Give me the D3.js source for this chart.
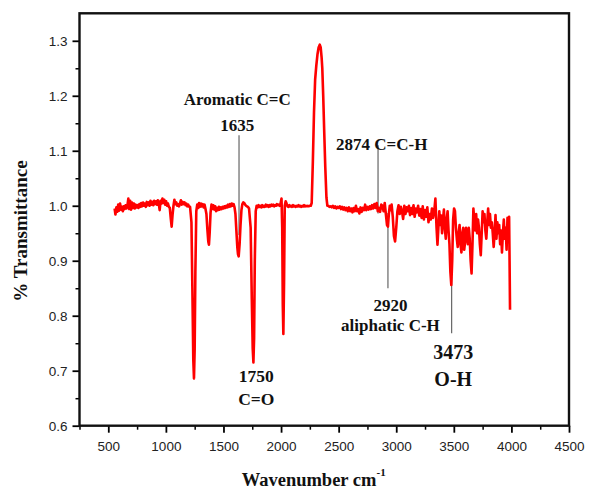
<!DOCTYPE html>
<html lang="en">

<head>
    <meta charset="UTF-8">
    <title>FTIR spectrum</title>
    <style>
        body {
            margin: 0;
            background-color: #fff;
        }

        .tick text {
            font-family: "Liberation Sans", Arial, sans-serif;
            font-size: 13.5px;
            fill: #222;
        }

        .note {
            font-family: "Liberation Serif", "Times New Roman", serif;
            font-weight: bold;
            fill: #111;
        }
    </style>
</head>

<body>
    <script src="https://cdnjs.cloudflare.com/ajax/libs/d3/7.8.5/d3.min.js"></script>
    <div id="my_dataviz"></div>
    <script>

        // spectrum (wavenumber, transmittance)
        const wavenumber = [
            555, 562, 570, 578, 586, 594, 602, 610, 618, 626, 634, 642, 650, 658, 666, 674, 682, 690, 698, 706,
            714, 722, 730, 738, 746, 754, 762, 770, 778, 786, 794, 802, 810, 818, 826, 834, 842, 850, 858, 866,
            874, 882, 890, 898, 906, 914, 922, 930, 938, 946, 954, 962, 970, 978, 986, 994, 1002, 1010, 1018, 1026,
            1034, 1042, 1050, 1058, 1066, 1074, 1082, 1090, 1098, 1106, 1114, 1122, 1130, 1138, 1146, 1154, 1162, 1170, 1178, 1186,
            1194, 1202, 1210, 1222, 1230, 1238, 1244, 1250, 1256, 1264, 1272, 1280, 1288, 1296, 1304, 1312, 1320, 1328, 1336, 1344,
            1352, 1360, 1368, 1374, 1380, 1388, 1396, 1404, 1412, 1420, 1428, 1436, 1444, 1452, 1460, 1468, 1476, 1484, 1492, 1500,
            1508, 1516, 1524, 1532, 1540, 1548, 1556, 1564, 1572, 1580, 1588, 1596, 1604, 1612, 1620, 1626, 1632, 1640, 1648, 1656,
            1664, 1672, 1680, 1688, 1696, 1704, 1712, 1722, 1736, 1746, 1754, 1760, 1766, 1772, 1780, 1788, 1796, 1804, 1812, 1820,
            1828, 1836, 1844, 1852, 1860, 1868, 1876, 1884, 1892, 1900, 1908, 1916, 1924, 1932, 1940, 1948, 1956, 1964, 1972, 1980,
            1988, 1996, 2004, 2010, 2015, 2020, 2026, 2032, 2040, 2048, 2056, 2064, 2072, 2080, 2088, 2096, 2104, 2112, 2120, 2128,
            2136, 2144, 2152, 2160, 2168, 2176, 2184, 2192, 2200, 2208, 2216, 2224, 2232, 2240, 2248, 2258, 2266, 2276, 2286, 2296,
            2306, 2316, 2326, 2336, 2344, 2352, 2358, 2366, 2374, 2384, 2394, 2402, 2410, 2420, 2430, 2440, 2450, 2460, 2470, 2480,
            2490, 2500, 2510, 2520, 2530, 2540, 2550, 2560, 2570, 2580, 2590, 2600, 2610, 2620, 2630, 2640, 2650, 2660, 2670, 2680,
            2690, 2700, 2710, 2720, 2730, 2740, 2750, 2760, 2770, 2780, 2790, 2800, 2810, 2820, 2830, 2840, 2850, 2860, 2870, 2880,
            2890, 2900, 2910, 2920, 2928, 2936, 2944, 2952, 2960, 2970, 2980, 2990, 3000, 3010, 3020, 3030, 3040, 3050, 3060, 3070,
            3080, 3090, 3100, 3110, 3120, 3130, 3140, 3150, 3160, 3170, 3180, 3190, 3200, 3210, 3220, 3230, 3240, 3250, 3260, 3270,
            3280, 3290, 3300, 3310, 3320, 3330, 3340, 3350, 3358, 3366, 3374, 3382, 3390, 3398, 3406, 3414, 3422, 3430, 3438, 3446,
            3454, 3462, 3470, 3478, 3486, 3494, 3502, 3510, 3518, 3526, 3534, 3542, 3550, 3558, 3566, 3574, 3582, 3590, 3598, 3606,
            3614, 3622, 3630, 3638, 3646, 3654, 3662, 3670, 3678, 3686, 3694, 3702, 3710, 3718, 3726, 3734, 3742, 3750, 3758, 3766,
            3774, 3782, 3790, 3798, 3806, 3814, 3822, 3830, 3838, 3846, 3854, 3862, 3870, 3878, 3886, 3894, 3902, 3910, 3918, 3926,
            3934, 3942, 3950, 3958, 3966, 3974, 3980, 3984, 3988
        ];
        const transmittance = [
            0.995, 0.984, 0.997, 0.989, 1.002, 0.991, 1.004, 0.993, 0.998, 0.990, 0.999, 0.994, 1.001, 0.995, 1.000, 1.013, 0.994, 1.009, 0.993, 1.006,
            0.996, 1.004, 0.995, 1.002, 0.997, 1.001, 0.996, 1.003, 0.998, 1.005, 0.999, 1.006, 1.000, 1.004, 0.998, 1.007, 1.001, 1.006, 1.000, 1.009,
            1.002, 1.007, 1.001, 1.009, 1.003, 1.008, 1.002, 1.010, 1.004, 0.992, 1.009, 1.004, 1.013, 1.005, 1.011, 1.002, 1.008, 1.000, 1.004, 0.998,
            0.996, 0.978, 0.962, 0.984, 1.000, 1.011, 1.003, 1.006, 1.000, 1.003, 0.999, 1.004, 1.010, 1.002, 1.007, 1.003, 1.006, 1.001, 1.004, 0.999,
            1.002, 0.998, 0.998, 0.970, 0.850, 0.720, 0.686, 0.740, 0.880, 0.990, 1.002, 0.996, 1.005, 0.998, 1.004, 0.999, 1.003, 0.997, 1.002, 0.994,
            0.985, 0.958, 0.935, 0.929, 0.950, 0.988, 1.002, 0.994, 1.001, 0.993, 0.999, 0.990, 0.996, 0.992, 0.998, 0.993, 0.997, 0.994, 0.998, 0.995,
            0.999, 0.996, 1.000, 0.997, 1.002, 0.998, 1.003, 0.999, 1.004, 1.000, 1.003, 0.997, 0.985, 0.955, 0.925, 0.912, 0.908, 0.930, 0.965, 0.992,
            1.003, 1.006, 1.005, 1.002, 1.000, 0.999, 0.998, 0.995, 0.960, 0.830, 0.740, 0.715, 0.760, 0.900, 0.990, 1.000, 0.997, 1.001, 0.998, 1.000,
            0.997, 1.001, 0.998, 1.000, 0.998, 1.002, 0.999, 1.001, 0.998, 1.001, 0.999, 1.002, 1.000, 1.002, 0.999, 1.001, 1.000, 1.003, 1.001, 1.002,
            1.000, 1.004, 1.013, 0.960, 0.820, 0.767, 0.860, 1.000, 1.008, 1.004, 0.999, 0.998, 1.001, 0.999, 1.000, 0.998, 1.001, 0.999, 1.000, 0.998,
            1.000, 0.999, 1.001, 0.999, 1.000, 0.998, 1.000, 0.999, 1.001, 0.999, 1.000, 0.999, 1.000, 0.999, 1.000, 1.000, 1.005, 1.080, 1.170, 1.230,
            1.255, 1.275, 1.288, 1.293, 1.288, 1.270, 1.250, 1.200, 1.140, 1.070, 1.015, 1.000, 1.000, 0.998, 0.999, 0.997, 1.000, 0.996, 0.999, 0.995,
            0.998, 0.996, 0.999, 0.994, 0.998, 0.993, 0.997, 0.992, 0.996, 0.990, 0.997, 0.990, 0.995, 0.988, 0.996, 0.990, 1.000, 0.990, 0.994, 0.986,
            0.997, 0.989, 0.996, 0.992, 1.002, 0.992, 0.998, 0.993, 0.999, 0.994, 1.001, 0.995, 1.003, 0.996, 1.005, 0.990, 0.996, 0.989, 1.002, 1.000,
            0.990, 1.005, 0.985, 0.965, 0.962, 0.985, 1.000, 0.992, 1.002, 0.980, 0.945, 0.935, 0.960, 0.990, 1.001, 0.985, 0.998, 0.990, 0.976, 1.000,
            0.985, 0.997, 0.990, 1.000, 0.983, 0.996, 0.985, 1.001, 0.980, 0.995, 0.988, 1.000, 0.982, 0.994, 0.978, 0.999, 0.975, 0.992, 0.980, 0.997,
            0.970, 0.985, 0.975, 0.995, 0.978, 0.990, 1.013, 0.960, 0.929, 0.960, 0.990, 0.965, 0.982, 0.950, 0.975, 0.993, 0.960, 0.940, 0.975, 0.990,
            0.955, 0.930, 0.880, 0.856, 0.900, 0.975, 0.995, 0.990, 0.960, 0.940, 0.925, 0.950, 0.965, 0.930, 0.915, 0.950, 0.960, 0.920, 0.935, 0.960,
            0.945, 0.930, 0.960, 0.940, 0.900, 0.877, 0.930, 0.995, 0.970, 0.955, 0.985, 0.950, 0.975, 0.960, 0.930, 0.910, 0.950, 0.990, 0.970, 0.985,
            0.955, 0.940, 0.970, 0.995, 0.965, 0.985, 0.960, 0.970, 0.950, 0.925, 0.950, 0.983, 0.940, 0.970, 0.950, 0.965, 0.930, 0.955, 0.915, 0.950,
            0.975, 0.940, 0.960, 0.920, 0.978, 0.950, 0.980, 0.900, 0.811
        ];

        const xTicks = [500, 1000, 1500, 2000, 2500, 3000, 3500, 4000, 4500];
        const yTicks = [0.6, 0.7, 0.8, 0.9, 1.0, 1.1, 1.2, 1.3];

        // peak labels: text lines, pointer line (wavenumber, from, to)
        const notes = [
            { lines: ["Aromatic C=C", "1635"], wn: 1620, t: 1.183, size: 17, dy: 26, line: [1635, 1.128, 0.947] },
            { lines: ["2874 C=C-H"], wn: 2874, t: 1.101, size: 17, dy: 0, line: [2842, 1.110, 0.986] },
            { lines: ["2920", "aliphatic C-H"], wn: 2950, t: 0.808, size: 17, dy: 20, line: [2928, 0.987, 0.850] },
            { lines: ["3473", "O-H"], wn: 3495, t: 0.722, size: 20, dy: 27, line: [3481, 0.871, 0.768] },
            { lines: ["1750", "C=O"], wn: 1785, t: 0.680, size: 17.5, dy: 23, line: null }
        ];

        const data = wavenumber.map((w, i) => ({ wn: w, t: transmittance[i] }));

        const width = 589, height = 491;
        const plot = { left: 79.5, right: 569, top: 13.3, bottom: 425.7 };

        const svg = d3.select("#my_dataviz")
            .append("svg")
            .attr("width", width)
            .attr("height", height);

        const x = d3.scaleLinear()
            .domain([250, 4500])
            .range([plot.left, plot.right]);

        const y = d3.scaleLinear()
            .domain([0.6, 1.35])
            .range([plot.bottom, plot.top]);

        // minor ticks (half steps)
        svg.append("g")
            .attr("transform", `translate(0,${plot.bottom})`)
            .call(d3.axisBottom(x).tickValues(d3.range(250, 4501, 500)).tickSize(4).tickFormat(""))
            .call(g => g.select(".domain").remove())
            .selectAll("line").attr("stroke-width", 1.5);
        svg.append("g")
            .attr("transform", `translate(${plot.left},0)`)
            .call(d3.axisLeft(y).tickValues(d3.range(0.65, 1.35, 0.1)).tickSize(4).tickFormat(""))
            .call(g => g.select(".domain").remove())
            .selectAll("line").attr("stroke-width", 1.5);

        // major ticks
        svg.append("g")
            .attr("transform", `translate(0,${plot.bottom})`)
            .call(d3.axisBottom(x).tickValues(xTicks).tickSize(7).tickPadding(9).tickFormat(d3.format("d")))
            .call(g => g.select(".domain").remove())
            .selectAll("line").attr("stroke-width", 1.8);
        svg.append("g")
            .attr("transform", `translate(${plot.left},0)`)
            .call(d3.axisLeft(y).tickValues(yTicks).tickSize(7).tickPadding(5).tickFormat(d3.format(".1f")))
            .call(g => g.select(".domain").remove())
            .selectAll("line").attr("stroke-width", 1.8);

        // frame
        svg.append("rect")
            .attr("x", plot.left)
            .attr("y", plot.top)
            .attr("width", plot.right - plot.left)
            .attr("height", plot.bottom - plot.top)
            .attr("fill", "none")
            .attr("stroke", "#111")
            .attr("stroke-width", 2.4);

        // pointer lines
        svg.append("g")
            .selectAll("line")
            .data(notes.filter(d => d.line))
            .join("line")
            .attr("x1", d => x(d.line[0]))
            .attr("x2", d => x(d.line[0]))
            .attr("y1", d => y(d.line[1]))
            .attr("y2", d => y(d.line[2]))
            .attr("stroke", "#666")
            .attr("stroke-width", 1.2);

        // the spectrum
        svg.append("path")
            .datum(data)
            .attr("fill", "none")
            .attr("stroke", "#ff0000")
            .attr("stroke-width", 2.6)
            .attr("stroke-linejoin", "round")
            .attr("d", d3.line()
                .x(d => x(d.wn))
                .y(d => y(d.t))
            );

        // peak labels
        const noteText = svg.append("g")
            .selectAll("text")
            .data(notes)
            .join("text")
            .attr("class", "note")
            .attr("text-anchor", "middle")
            .style("font-size", d => d.size + "px");
        noteText.selectAll("tspan")
            .data(d => d.lines.map((s, i) => ({ s, i, n: d })))
            .join("tspan")
            .attr("x", d => x(d.n.wn))
            .attr("y", d => y(d.n.t) + d.i * d.n.dy)
            .text(d => d.s);

        // axis titles
        svg.append("text")
            .attr("class", "note")
            .attr("transform", "translate(27,231) rotate(-90)")
            .attr("text-anchor", "middle")
            .style("font-size", "19px")
            .text("% Transmittance");

        const xt = svg.append("text")
            .attr("class", "note")
            .attr("x", 241.7)
            .attr("y", 486)
            .style("font-size", "18.5px");
        xt.append("tspan").text("Wavenumber cm");
        xt.append("tspan")
            .attr("dy", -10)
            .style("font-size", "11px")
            .text("-1");

    </script>
</body>

</html>
